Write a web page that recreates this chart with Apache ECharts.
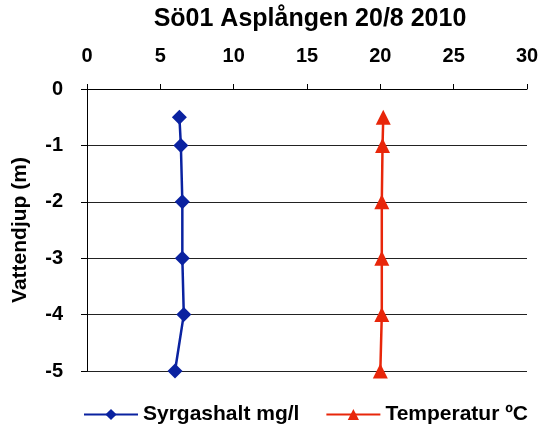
<!DOCTYPE html>
<html>
<head>
<meta charset="utf-8">
<script src="https://cdn.jsdelivr.net/npm/echarts@6/dist/echarts.min.js"></script>
<style>
  html, body { margin: 0; padding: 0; background: #fff; }
  #chart { width: 542px; height: 428px; }
</style>
</head>
<body>
<div id="chart"></div>
<script>
// djup (m)
var depths = [-0.5, -1, -2, -3, -4, -5];
// syrgashalt mg/l
var oxygen = [6.3, 6.4, 6.5, 6.5, 6.6, 6.0];
// temperatur
var temperature = [20.2, 20.15, 20.1, 20.1, 20.1, 20.0];
var xTicks = [0, 5, 10, 15, 20, 25, 30];
var yTicks = [0, -1, -2, -3, -4, -5];

function pairs(vals) {
    var out = [];
    vals.forEach(function (v, i) {
        out.push([v, depths[i]]);
    });
    return out;
}

var font = 'Liberation Sans, Arial, sans-serif';
var chart = echarts.init(document.getElementById('chart'));
var option = {
    animation: false,
    title: {
        text: 'Sö01 Asplången 20/8 2010',
        left: 305,
        textAlign: 'center',
        top: 2,
        textStyle: {fontFamily: font, fontSize: 25, fontWeight: 'bold', color: '#000'}
    },
    grid: {left: 87, right: 15, top: 89, bottom: 57},
    legend: {
        left: 78,
        top: 399,
        itemWidth: 54,
        itemHeight: 14,
        itemGap: 26,
        textStyle: {fontFamily: font, fontSize: 21, fontWeight: 'bold', color: '#000'},
        data: ['Syrgashalt mg/l', 'Temperatur ºC']
    },
    xAxis: {
        type: 'value',
        position: 'top',
        min: xTicks[0],
        max: xTicks[xTicks.length - 1],
        interval: 5,
        axisLine: {show: true, lineStyle: {color: '#000', width: 1}},
        axisTick: {show: true, length: 5, lineStyle: {color: '#000'}},
        axisLabel: {margin: 23, fontFamily: font, fontSize: 20, fontWeight: 'bold', color: '#000'},
        splitLine: {show: false}
    },
    yAxis: {
        type: 'value',
        min: yTicks[yTicks.length - 1],
        max: yTicks[0],
        interval: 1,
        name: 'Vattendjup (m)',
        nameLocation: 'middle',
        nameGap: 56,
        nameTextStyle: {fontFamily: font, fontSize: 21, fontWeight: 'bold', color: '#000'},
        axisLine: {show: true, lineStyle: {color: '#000', width: 1}},
        axisTick: {show: true, length: 6, lineStyle: {color: '#000'}},
        axisLabel: {margin: 24, fontFamily: font, fontSize: 20, fontWeight: 'bold', color: '#000'},
        splitLine: {show: true, lineStyle: {color: '#222', width: 1}}
    },
    series: [
        {
            name: 'Syrgashalt mg/l',
            type: 'line',
            data: pairs(oxygen),
            color: '#0a22a0',
            symbol: 'diamond',
            symbolSize: 15,
            lineStyle: {width: 2.5},
            itemStyle: {color: '#0a22a0'}
        },
        {
            name: 'Temperatur ºC',
            type: 'line',
            data: pairs(temperature),
            color: '#e8260a',
            symbol: 'triangle',
            symbolSize: 15,
            lineStyle: {width: 2.5},
            itemStyle: {color: '#e8260a'}
        }
    ]
};
chart.setOption(option);
</script>
</body>
</html>
